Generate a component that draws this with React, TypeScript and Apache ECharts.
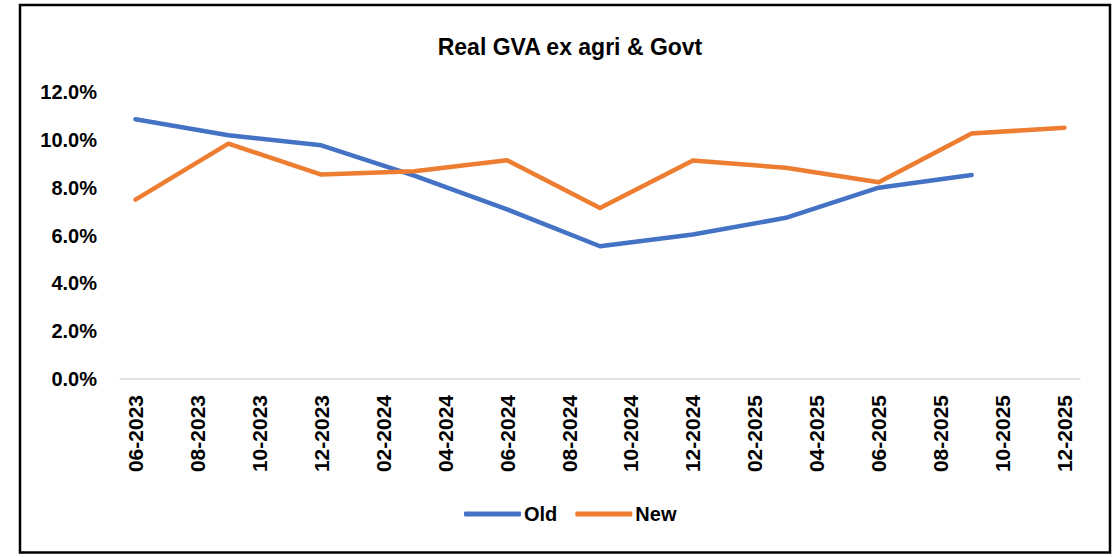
import React, { useEffect, useRef } from "react";
import * as echarts from "echarts";

const months = [
  "06-2023", "07-2023", "08-2023", "09-2023", "10-2023", "11-2023", "12-2023",
  "01-2024", "02-2024", "03-2024", "04-2024", "05-2024", "06-2024", "07-2024",
  "08-2024", "09-2024", "10-2024", "11-2024", "12-2024", "01-2025", "02-2025",
  "03-2025", "04-2025", "05-2025", "06-2025", "07-2025", "08-2025", "09-2025",
  "10-2025", "11-2025", "12-2025",
];

const quarters = [
  "06-2023", "09-2023", "12-2023", "03-2024", "06-2024", "09-2024",
  "12-2024", "03-2025", "06-2025", "09-2025", "12-2025",
];

const oldValues: (number | null)[] = [10.86, 10.19, 9.77, 8.5, 7.09, 5.55, 6.04, 6.74, 8.0, 8.53, null];
const newValues: (number | null)[] = [7.5, 9.84, 8.55, 8.69, 9.15, 7.15, 9.14, 8.83, 8.23, 10.26, 10.51];

const FONT = "'Liberation Sans', Arial, sans-serif";

export default function App() {
  const ref = useRef<HTMLDivElement>(null);
  useEffect(() => {
    if (!ref.current) return;
    const chart = echarts.init(ref.current, undefined, { renderer: "svg" });
    const toPairs = (vals: (number | null)[]) =>
      quarters
        .map((q, i) => [q, vals[i]])
        .filter((p) => p[1] !== null);
    chart.setOption({
      animation: false,
      backgroundColor: "#ffffff",
      title: {
        text: "Real GVA ex agri & Govt",
        left: 565,
        textAlign: "center",
        top: 30,
        textStyle: { fontFamily: FONT, fontWeight: "bold", fontSize: 23, color: "#000" },
      },
      graphic: [
        {
          type: "rect",
          shape: { x: 20, y: 5, width: 1090, height: 547.5 },
          style: { fill: "none", stroke: "#000", lineWidth: 2.5 },
          silent: true,
        },
      ],
      legend: {
        left: 459,
        top: 499,
        itemWidth: 57,
        itemHeight: 5,
        itemGap: 18,
        icon: "roundRect",
        textStyle: { fontFamily: FONT, fontWeight: "bold", fontSize: 20, color: "#000", padding: [0, 0, 0, -2] },
        data: ["Old", "New"],
      },
      grid: { left: 120, right: 33, top: 92, bottom: 178 },
      xAxis: {
        type: "category",
        data: months,
        boundaryGap: true,
        axisLine: { show: true, lineStyle: { color: "#d9d9d9", width: 1.5 } },
        axisTick: { show: false },
        axisLabel: {
          interval: 1,
          rotate: 90,
          margin: 16,
          fontFamily: FONT,
          fontWeight: "bold",
          fontSize: 21,
          color: "#000",
        },
      },
      yAxis: {
        type: "value",
        min: 0,
        max: 12,
        interval: 2,
        axisLine: { show: false },
        axisTick: { show: false },
        splitLine: { show: false },
        axisLabel: {
          margin: 23,
          fontFamily: FONT,
          fontWeight: "bold",
          fontSize: 20,
          color: "#000",
          formatter: (v: number) => v.toFixed(1) + "%",
        },
      },
      series: [
        {
          name: "Old",
          type: "line",
          data: toPairs(oldValues),
          showSymbol: false,
          symbol: "none",
          lineStyle: { color: "#4472C4", width: 4.5, cap: "round", join: "round" },
          itemStyle: { color: "#4472C4" },
        },
        {
          name: "New",
          type: "line",
          data: toPairs(newValues),
          showSymbol: false,
          symbol: "none",
          lineStyle: { color: "#ED7D31", width: 4.5, cap: "round", join: "round" },
          itemStyle: { color: "#ED7D31" },
        },
      ],
    });
    return () => chart.dispose();
  }, []);
  return (
    <div
      ref={ref}
      style={{ position: "fixed", left: 0, top: 0, width: 1113, height: 557, background: "#fff" }}
    />
  );
}
